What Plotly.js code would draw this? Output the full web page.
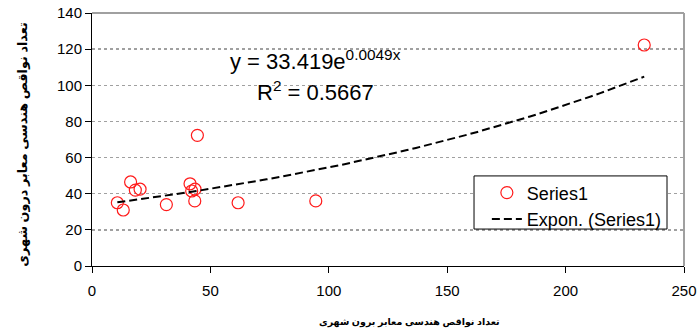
<!DOCTYPE html>
<html>
<head>
<meta charset="utf-8">
<script src="https://cdn.plot.ly/plotly-3.0.1.min.js"></script>
<style>html,body{margin:0;padding:0;background:#fff;}#chart{width:700px;height:336px;}</style>
</head>
<body>
<div id="chart"></div>
<script>
// Data
const xValues = [10.7, 13.2, 16.3, 18.3, 20.3, 31.4, 41.4, 42.1, 43.5, 43.4, 44.5, 61.7, 94.5, 233.2];
const yValues = [35.0, 31.0, 46.5, 42.0, 42.5, 34.0, 45.5, 41.5, 42.5, 36.0, 72.3, 35.0, 36.0, 122.3];
const trendA = 33.419;
const trendB = 0.0049;
const xTicks = [0, 50, 100, 150, 200, 250];
const yTicks = [0, 20, 40, 60, 80, 100, 120, 140];
const seriesName = 'Series1';
const trendName = 'Expon. (Series1)';
const xTitle = 'تعداد نواقص هندسی معابر برون شهری';
const yTitle = 'تعداد نواقص هندسی معابر درون شهری';
const eqText = 'y = 33.419e<sup>0.0049x</sup>';
const r2Text = 'R<sup>2</sup> = 0.5667';

// trendline evaluated from the fitted equation
const xmin = Math.min(...xValues), xmax = Math.max(...xValues);
const tx = [], ty = [];
for (let i = 0; i <= 60; i++) {
  const x = xmin + (xmax - xmin) * i / 60;
  tx.push(x); ty.push(trendA * Math.exp(trendB * x));
}

const font = "Arial, 'Liberation Sans', sans-serif";
const arFont = "Arial, 'Liberation Sans', 'DejaVu Sans', sans-serif";

const data = [
  {x: xValues, y: yValues, type: 'scatter', mode: 'markers', name: seriesName,
   marker: {symbol: 'circle-open', size: 12, color: '#ff1a1a', line: {width: 1.2, color: '#ff1a1a'}}},
  {x: tx, y: ty, type: 'scatter', mode: 'lines', name: trendName,
   line: {color: '#000', width: 2, dash: '8px,4px'}}
];

const layout = {
  width: 700, height: 336,
  margin: {l: 92, r: 16, t: 13, b: 70},
  paper_bgcolor: '#fff', plot_bgcolor: '#fff',
  font: {family: font, size: 15, color: '#000'},
  showlegend: true,
  legend: {x: 0.667, y: 0.362, xanchor: 'left', yanchor: 'top',
           bgcolor: 'rgba(0,0,0,0)', borderwidth: 0,
           font: {family: font, size: 18, color: '#000'}, tracegroupgap: 0},
  xaxis: {range: [0, 250], tickvals: xTicks, ticks: 'outside', ticklen: 6, tickcolor: '#000',
          showline: true, linecolor: '#000', linewidth: 1, showgrid: false, zeroline: false,
          tickfont: {size: 15}, ticklabelstandoff: 5},
  yaxis: {range: [0, 140], tickvals: yTicks, ticks: 'outside', ticklen: 6, tickcolor: '#000',
          showline: true, linecolor: '#000', linewidth: 1, showgrid: true, gridcolor: '#a0a0a0',
          griddash: 'dot', gridwidth: 1.5, zeroline: false, tickfont: {size: 15}},
  shapes: [
    {type: 'line', xref: 'paper', yref: 'paper', x0: 1, x1: 1, y0: 0, y1: 1, line: {color: '#a0a0a0', width: 2}},
    {type: 'line', xref: 'paper', yref: 'paper', x0: 0, x1: 1, y0: 1, y1: 1, line: {color: '#a0a0a0', width: 2}},
    {type: 'rect', xref: 'paper', yref: 'paper', x0: 0.6453, x1: 0.9713, y0: 0.146, y1: 0.356,
     fillcolor: '#fff', line: {color: '#000', width: 1}, layer: 'above'}
  ],
  annotations: [
    {xref: 'paper', yref: 'paper', x: 0.2297, y: 0.815, text: eqText, showarrow: false,
     font: {family: font, size: 22, color: '#000'}, xanchor: 'left', yanchor: 'middle'},
    {xref: 'paper', yref: 'paper', x: 0.2753, y: 0.69, text: r2Text, showarrow: false,
     font: {family: font, size: 22, color: '#000'}, xanchor: 'left', yanchor: 'middle'},
    {xref: 'paper', yref: 'paper', x: 0.537, y: -0.221, text: '<b>' + xTitle + '</b>', showarrow: false,
     font: {family: arFont, size: 9.5, color: '#000'}, xanchor: 'center', yanchor: 'middle'},
    {xref: 'paper', yref: 'paper', x: -0.118, y: 0.48, text: '<b>' + yTitle + '</b>', showarrow: false,
     textangle: -90, font: {family: arFont, size: 12.8, color: '#000'}, xanchor: 'center', yanchor: 'middle'}
  ]
};

Plotly.newPlot('chart', data, layout, {displayModeBar: false, staticPlot: true});
</script>
</body>
</html>
